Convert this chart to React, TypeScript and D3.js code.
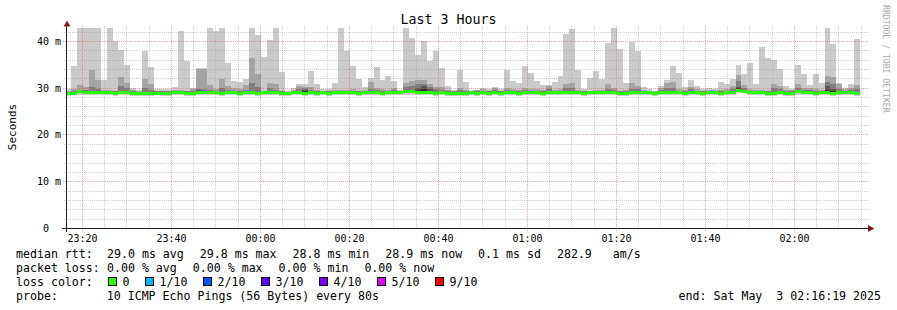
import React from 'react';
import * as d3 from 'd3';

const W = 897;
const H = 310;
const START = Date.UTC(2025, 4, 2, 23, 16, 19);
const END = Date.UTC(2025, 4, 3, 2, 16, 19);
const FIRST_BAR = Date.UTC(2025, 4, 2, 23, 16, 12);
const STEP_MS = 80000;
const Y_MAX = 42.78;

const yTicks = [0, 10, 20, 30, 40];
const xTickLabels = ['23:20', '23:40', '00:00', '00:20', '00:40', '01:00', '01:20', '01:40', '02:00'];

// ping 10 (max) per 80 s step, ms
const maxVals = [
  29.7, 34.7, 44.5, 44.5, 44.5, 44.5, 31.7, 44.5, 39.9, 38.1,
  34.9, 29.9, 29.5, 37.9, 34.5, 29.7, 29.7, 29.7, 30.2, 42.2,
  35.8, 29.9, 34.3, 34.2, 44.5, 42.1, 44.5, 35.2, 31.4, 31.2,
  31.9, 44.5, 41.3, 36.6, 40.2, 44.5, 33.4, 29.2, 29.9, 30.8,
  30.8, 33.6, 30.8, 29.7, 29.7, 31.0, 44.5, 37.9, 34.7, 31.9,
  30.1, 32.0, 34.4, 31.7, 32.5, 31.4, 29.6, 44.5, 40.6, 36.9,
  39.9, 35.8, 37.9, 34.3, 30.3, 29.6, 33.9, 31.2, 29.6, 29.6,
  30.0, 29.7, 30.2, 29.7, 33.7, 31.4, 31.0, 34.7, 33.2, 31.4,
  30.6, 30.6, 31.2, 32.5, 41.5, 42.5, 33.7, 29.8, 32.0, 33.6,
  31.9, 39.6, 44.5, 38.3, 31.0, 39.8, 37.9, 30.1, 29.8, 29.4,
  30.4, 31.7, 34.7, 33.2, 30.1, 31.7, 30.4, 29.7, 29.9, 29.8,
  31.2, 30.8, 31.9, 34.9, 33.0, 35.3, 30.8, 38.7, 36.4, 35.9,
  34.0, 30.4, 29.8, 34.9, 33.0, 30.6, 33.0, 31.0, 44.5, 39.4,
  31.0, 30.0, 30.8, 40.4,
];

// ping 9
const p9Vals = [
  29.3, 29.7, 30.6, 30.1, 33.8, 31.7, 29.5, 29.5, 29.4, 32.4,
  31.1, 29.5, 29.3, 31.9, 30.8, 29.3, 29.3, 29.3, 29.6, 29.6,
  29.4, 29.7, 34.1, 34.0, 30.6, 29.8, 31.9, 30.4, 29.9, 29.8,
  30.6, 36.4, 33.0, 29.4, 31.0, 30.8, 29.4, 29.1, 29.5, 30.4,
  30.2, 30.2, 29.5, 29.3, 29.3, 29.5, 29.5, 29.5, 29.7, 29.4,
  29.6, 31.2, 29.9, 29.7, 29.5, 29.9, 29.4, 31.0, 31.4, 31.7,
  31.7, 30.8, 30.2, 30.2, 29.6, 29.4, 29.9, 29.6, 29.3, 29.5,
  29.8, 29.4, 29.9, 29.4, 29.9, 29.7, 29.6, 29.9, 29.7, 29.7,
  29.5, 30.4, 29.5, 29.7, 30.8, 31.0, 29.6, 29.4, 29.4, 29.6,
  29.6, 30.8, 30.0, 29.4, 29.6, 31.0, 30.4, 29.6, 29.4, 29.2,
  29.9, 31.1, 31.2, 29.7, 29.6, 30.2, 29.7, 29.4, 29.5, 29.5,
  29.6, 29.7, 30.4, 32.7, 30.6, 29.7, 29.6, 29.6, 29.4, 30.8,
  30.4, 29.6, 29.5, 30.8, 30.0, 30.0, 29.7, 29.6, 32.6, 32.4,
  30.8, 29.7, 29.9, 30.6,
];

// ping 8
const p8Vals = [
  29.15, 29.25, 29.6, 29.5, 30.2, 29.8, 29.25, 29.25, 29.2, 30.4,
  29.9, 29.2, 29.15, 30.0, 29.6, 29.2, 29.2, 29.2, 29.3, 29.3,
  29.2, 29.3, 29.8, 29.8, 29.6, 29.4, 30.0, 29.6, 29.4, 29.3,
  29.6, 31.0, 30.2, 29.25, 29.9, 29.6, 29.2, 29.0, 29.3, 29.7,
  29.9, 29.6, 29.2, 29.2, 29.2, 29.3, 29.3, 29.3, 29.4, 29.2,
  29.3, 29.8, 29.5, 29.3, 29.3, 29.5, 29.2, 30.2, 30.4, 30.9,
  30.8, 30.1, 29.7, 29.6, 29.3, 29.2, 29.5, 29.3, 29.2, 29.2,
  29.4, 29.2, 29.5, 29.2, 29.5, 29.4, 29.2, 29.5, 29.4, 29.4,
  29.2, 29.8, 29.3, 29.4, 29.9, 30.0, 29.3, 29.2, 29.2, 29.3,
  29.3, 29.8, 29.6, 29.2, 29.2, 29.8, 29.7, 29.3, 29.2, 29.1,
  29.5, 29.9, 30.0, 29.4, 29.2, 29.7, 29.4, 29.2, 29.3, 29.3,
  29.2, 29.4, 29.7, 31.4, 29.9, 29.4, 29.3, 29.3, 29.2, 29.9,
  29.7, 29.2, 29.2, 29.9, 29.6, 29.6, 29.3, 29.3, 31.2, 30.9,
  29.8, 29.4, 29.5, 29.8,
];

// median rtt
const medVals = [
  28.75, 28.75, 29.1, 29.05, 28.95, 28.95, 28.9, 28.9, 28.75, 28.95,
  29.05, 28.75, 28.75, 28.7, 28.75, 28.85, 28.75, 28.75, 28.95, 28.9,
  28.75, 28.75, 28.95, 28.95, 28.9, 28.95, 28.75, 28.9, 28.9, 28.75,
  28.95, 28.95, 28.75, 28.95, 28.95, 29.0, 28.75, 28.75, 28.95, 28.95,
  28.75, 28.95, 28.75, 28.95, 28.75, 28.95, 28.95, 28.95, 28.9, 28.75,
  28.95, 28.95, 28.9, 28.75, 28.95, 28.95, 28.9, 29.1, 29.1, 28.95,
  28.95, 28.95, 28.75, 28.95, 28.75, 28.75, 28.75, 28.75, 28.95, 28.75,
  28.95, 28.75, 28.95, 28.75, 28.95, 28.95, 28.75, 28.95, 28.95, 28.95,
  28.75, 28.95, 28.95, 28.95, 28.95, 28.95, 28.9, 28.75, 28.95, 28.95,
  28.95, 28.95, 28.95, 28.75, 28.75, 28.95, 28.95, 28.9, 28.95, 28.75,
  28.95, 28.95, 28.95, 28.95, 28.75, 28.95, 28.95, 28.75, 28.95, 28.95,
  28.75, 28.95, 28.95, 29.45, 29.3, 28.95, 28.95, 28.95, 28.75, 28.75,
  28.95, 28.75, 28.75, 29.1, 28.95, 28.95, 28.75, 28.95, 28.95, 28.75,
  28.95, 28.95, 28.95, 28.75,
];

// ping 1 (min)
const minVals = [
  28.3, 28.35, 28.5, 28.5, 28.45, 28.45, 28.4, 28.4, 28.3, 28.45,
  28.5, 28.3, 28.3, 28.25, 28.3, 28.4, 28.3, 28.3, 28.45, 28.4,
  28.3, 28.3, 28.45, 28.45, 28.4, 28.45, 28.3, 28.4, 28.4, 28.3,
  28.45, 28.45, 28.3, 28.45, 28.45, 28.5, 28.3, 28.3, 28.45, 28.45,
  28.3, 28.45, 28.3, 28.45, 28.3, 28.45, 28.45, 28.45, 28.4, 28.3,
  28.45, 28.45, 28.4, 28.3, 28.45, 28.45, 28.4, 28.55, 28.55, 28.45,
  28.4, 28.45, 28.3, 28.45, 28.3, 28.3, 28.3, 28.3, 28.45, 28.3,
  28.45, 28.3, 28.45, 28.3, 28.45, 28.45, 28.3, 28.45, 28.45, 28.45,
  28.3, 28.45, 28.45, 28.45, 28.45, 28.45, 28.4, 28.3, 28.45, 28.45,
  28.45, 28.45, 28.45, 28.3, 28.3, 28.45, 28.45, 28.4, 28.45, 28.3,
  28.45, 28.45, 28.45, 28.45, 28.3, 28.45, 28.45, 28.3, 28.45, 28.45,
  28.3, 28.45, 28.45, 28.9, 28.8, 28.45, 28.45, 28.45, 28.3, 28.3,
  28.45, 28.3, 28.3, 28.55, 28.45, 28.45, 28.3, 28.45, 28.45, 28.3,
  28.45, 28.45, 28.45, 28.3,
];

// [step index, ping 7, ping 6] where the innermost smoke shows
const darkCores = [
  [22, 29.5, 29.2],
  [40, 29.6, 29.3],
  [59, 29.9, 29.5],
  [60, 30.3, 29.7],
  [61, 29.7, 29.4],
  [113, 30.2, 29.9],
  [128, 30.4, 29.6],
  [129, 29.8, 29.3],
];

const rttLabel = 'median rtt:';
const rttItems = ['29.0 ms avg', '29.8 ms max', '28.8 ms min', '28.9 ms now', '0.1 ms sd', '282.9   am/s'];
const lossRowLabel = 'packet loss:';
const lossItems = ['0.00 % avg', '0.00 % max', '0.00 % min', '0.00 % now'];
const lossLabel = 'loss color:';
const lossLegend = [
  { label: '0', color: '#26ff00' },
  { label: '1/10', color: '#00b8ff' },
  { label: '2/10', color: '#0059ff' },
  { label: '3/10', color: '#5e00ff' },
  { label: '4/10', color: '#7e00ff' },
  { label: '5/10', color: '#dd00ff' },
  { label: '9/10', color: '#ff0000' },
];
const probeText = 'probe:       10 ICMP Echo Pings (56 Bytes) every 80s';
const endText = 'end: Sat May  3 02:16:19 2025';
const titleText = 'Last 3 Hours';
const yTitle = 'Seconds';
const sideText = 'RRDTOOL / TOBI OETIKER';

const MONO = "'DejaVu Sans Mono', monospace";
const CHAR_W = 6.98;
const ITEM_GAP = 16;

type Bar = { t: number; min: number; med: number; p8: number; p9: number; max: number };

export default function App() {
  const x = d3.scaleUtc().domain([START, END]).range([65.6, 866.6]);
  const y = d3.scaleLinear().domain([0, Y_MAX]).range([228, 28]);

  const bars: Bar[] = maxVals.map((mx, i) => ({
    t: FIRST_BAR + i * STEP_MS,
    min: minVals[i],
    med: medVals[i],
    p8: Math.min(p8Vals[i], p9Vals[i]),
    p9: Math.min(p9Vals[i], mx),
    max: mx,
  }));
  const last = bars[bars.length - 1];
  const series = [...bars, { ...last, t: last.t + STEP_MS }];

  const mkArea = (lo: (b: Bar) => number, hi: (b: Bar) => number) =>
    d3
      .area<Bar>()
      .x((b) => x(b.t))
      .y0((b) => y(lo(b)))
      .y1((b) => y(hi(b)))
      .curve(d3.curveStepAfter)(series) || '';

  const layer1 = mkArea((b) => b.min, (b) => b.max);
  const layer2 = mkArea((b) => b.med, (b) => b.p9);
  const layer3 = mkArea((b) => b.med, (b) => b.p8);
  const medBand = d3
    .area<Bar>()
    .x((b) => x(b.t))
    .y0((b) => y(b.med) + 1.5)
    .y1((b) => y(b.med) - 1.5)
    .curve(d3.curveStepAfter)(series) || '';

  const minorX = x
    .ticks(d3.utcMinute.every(5) as any)
    .filter((d: Date) => d.getUTCMinutes() % 20 !== 0);
  const majorX = xTickLabels.map((lab) => {
    const [hh, mm] = lab.split(':').map(Number);
    const day = hh >= 12 ? 2 : 3;
    return { lab, t: Date.UTC(2025, 4, day, hh, mm, 0) };
  });
  const minorY = d3.range(2, 43, 2).filter((v) => v % 10 !== 0);
  const majorY = yTicks.filter((v) => v > 0);

  const px = (v: number) => Math.round(v) + 0.5;

  const minorGrid = 'rgba(140,140,140,0.38)';
  const majorGrid = 'rgba(225,80,80,0.5)';

  const layoutItems = (items: string[]) => {
    let cx = 107;
    return items.map((s) => {
      const it = { s, x: cx };
      cx += s.length * CHAR_W + ITEM_GAP;
      return it;
    });
  };
  const rttLayout = layoutItems(rttItems);
  const lossLayout = layoutItems(lossItems);

  let cursor = 108;
  const legendItems = lossLegend.map((it) => {
    const item = { ...it, bx: cursor, tx: cursor + 14.5 };
    cursor += 15 + it.label.length * 7 + 15;
    return item;
  });

  return (
    <svg
      width={W}
      height={H}
      viewBox={`0 0 ${W} ${H}`}
      style={{ position: 'absolute', left: 0, top: 0, background: '#ffffff', display: 'block' }}
    >
      <defs>
        <clipPath id="canvasClip">
          <rect x={66} y={28} width={866.6 - 66} height={200} />
        </clipPath>
      </defs>
      <rect x={0} y={0} width={W} height={H} fill="#ffffff" />

      <g clipPath="url(#canvasClip)" shapeRendering="crispEdges">
        <path d={layer1} fill="#cacaca" />
        <path d={layer2} fill="#a4a4a4" />
        <path d={layer3} fill="#7e7e7e" />
        {darkCores.map(([i, p7, p6]) => {
          const b = bars[i];
          const x0 = x(b.t);
          const x1 = x(b.t + STEP_MS);
          return (
            <g key={i}>
              <rect x={x0} width={x1 - x0} y={y(p7)} height={y(b.med) - y(p7)} fill="#585858" />
              <rect x={x0} width={x1 - x0} y={y(p6)} height={y(b.med) - y(p6)} fill="#323232" />
            </g>
          );
        })}
        <path d={medBand} fill="#26ff00" />
      </g>

      <g strokeWidth={1} fill="none" shapeRendering="crispEdges">
        {minorY.map((v) => (
          <line key={'my' + v} x1={64} x2={869} y1={px(y(v))} y2={px(y(v))} stroke={minorGrid} strokeDasharray="1,1" />
        ))}
        {minorX.map((d: Date) => (
          <line key={'mx' + d.getTime()} x1={px(x(d))} x2={px(x(d))} y1={26} y2={230} stroke={minorGrid} strokeDasharray="1,1" />
        ))}
        {majorY.map((v) => (
          <line key={'My' + v} x1={63} x2={869} y1={px(y(v))} y2={px(y(v))} stroke={majorGrid} strokeDasharray="1,1" />
        ))}
        {majorX.map((m) => (
          <line key={'Mx' + m.lab} x1={px(x(m.t))} x2={px(x(m.t))} y1={26} y2={232} stroke={majorGrid} strokeDasharray="1,1" />
        ))}
      </g>

      <g shapeRendering="crispEdges">
        <line x1={62} x2={868} y1={228.5} y2={228.5} stroke="#1f1f1f" />
        <line x1={66.5} x2={66.5} y1={232} y2={25} stroke="#1f1f1f" />
      </g>
      <polygon points="63.5,26.5 70.5,26.5 67,20.5" fill="#7f1f1f" />
      <polygon points="868,225 868,232 874.5,228.5" fill="#7f1f1f" />

      <g fontFamily={MONO} fontSize={10} fill="#000">
        {yTicks.map((v) => (
          <text key={'yl' + v} x={61} y={px(y(v)) + 3.5} textAnchor="end" style={{ whiteSpace: 'pre' }}>
            {v === 0 ? '0\u00a0\u00a0' : `${v} m`}
          </text>
        ))}
        {majorX.map((m) => (
          <text key={'xl' + m.lab} x={x(m.t) + 0.5} y={241.5} textAnchor="middle">
            {m.lab}
          </text>
        ))}
      </g>

      <text x={448.5} y={24} textAnchor="middle" fontFamily={MONO} fontSize={13.3} fill="#000">
        {titleText}
      </text>
      <text
        transform="translate(15.5,127) rotate(-90)"
        textAnchor="middle"
        fontFamily={MONO}
        fontSize={11}
        fill="#000"
      >
        {yTitle}
      </text>
      <text
        transform="translate(883,5) rotate(90)"
        fontFamily={MONO}
        fontSize={8.15}
        fill="#a8a8a8"
      >
        {sideText}
      </text>

      <g fontFamily={MONO} fontSize={11.6} fill="#000" style={{ whiteSpace: 'pre' }}>
        <text x={16} y={257.5}>{rttLabel}</text>
        {rttLayout.map((it) => (
          <text key={'r' + it.s} x={it.x} y={257.5} style={{ whiteSpace: 'pre' }}>
            {it.s}
          </text>
        ))}
        <text x={16} y={271.8}>{lossRowLabel}</text>
        {lossLayout.map((it) => (
          <text key={'l' + it.s} x={it.x} y={271.8} style={{ whiteSpace: 'pre' }}>
            {it.s}
          </text>
        ))}
        <text x={16} y={286}>{lossLabel}</text>
        {legendItems.map((it) => (
          <g key={'lg' + it.label}>
            <rect x={it.bx + 0.5} y={277.5} width={8} height={8} fill={it.color} stroke="#000" strokeWidth={1} shapeRendering="crispEdges" />
            <text x={it.tx} y={286}>
              {it.label}
            </text>
          </g>
        ))}
        <text x={16} y={300.3} style={{ whiteSpace: 'pre' }}>
          {probeText}
        </text>
        <text x={881} y={300.3} textAnchor="end" style={{ whiteSpace: 'pre' }}>
          {endText}
        </text>
      </g>
    </svg>
  );
}
